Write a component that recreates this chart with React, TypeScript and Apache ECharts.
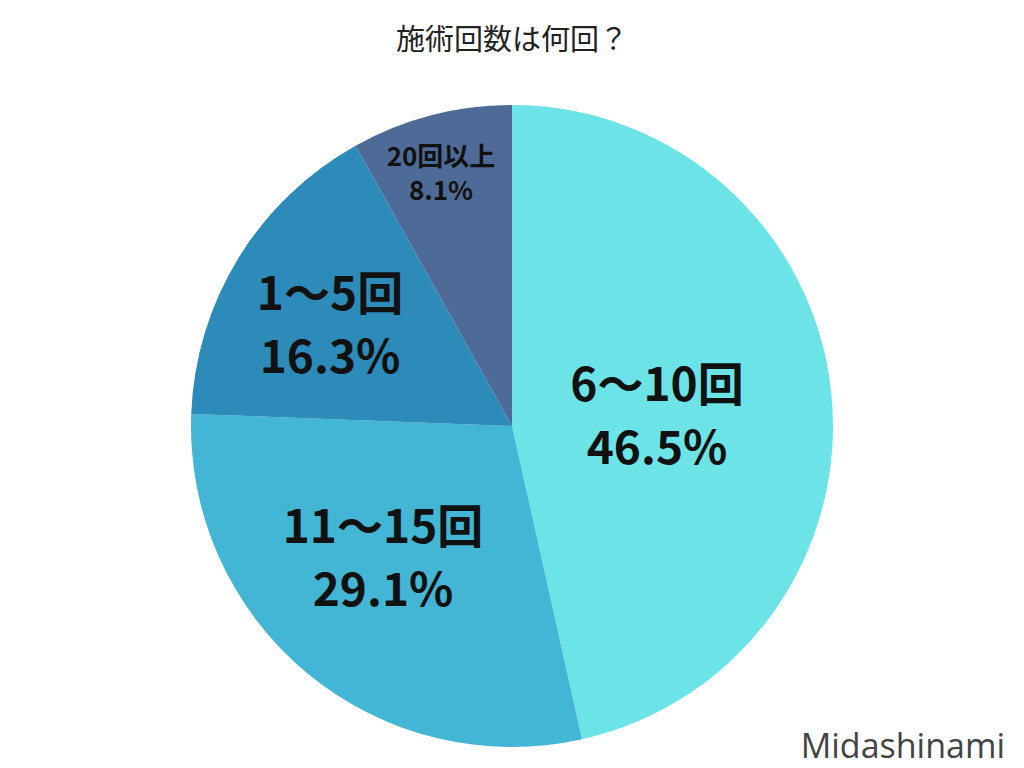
import React, { useEffect, useRef } from "react";
import * as echarts from "echarts";

const categories = ["6〜10回", "11〜15回", "1〜5回", "20回以上"];
const values = [46.5, 29.1, 16.3, 8.1];
const colors = ["#6ce3e6", "#42b6d4", "#2d8bba", "#4e6b97"];
const labelOffsets = [
  [145, -14],
  [-129, 128],
  [-182, -105],
  [-71, -255],
];
const labelSizes = [46, 46, 46, 26];
const labelLineHeights = [63, 63, 63, 34];

const CX = 512;
const CY = 426;
const R = 321;

export default function App() {
  const ref = useRef<HTMLDivElement>(null);
  useEffect(() => {
    const chart = echarts.init(ref.current!, null, { renderer: "svg" });
    chart.setOption({
      animation: false,
      backgroundColor: "#ffffff",
      title: {
        text: "施術回数は何回？",
        left: "center",
        top: 17,
        textStyle: {
          fontFamily: "Noto Sans CJK JP",
          fontSize: 29,
          fontWeight: "normal",
          color: "#222222",
        },
      },
      graphic: [
        {
          type: "text",
          x: 1005,
          y: 745,
          style: {
            text: "Midashinami",
            fontFamily: "Open Sans",
            fontSize: 34,
            fill: "#444444",
            align: "right",
            verticalAlign: "middle",
          },
        },
      ],
      series: [
        {
          type: "pie",
          center: [CX, CY],
          radius: [0, R],
          startAngle: 90,
          clockwise: true,
          data: categories.map((c, i) => ({
            name: c,
            value: values[i],
            itemStyle: { color: colors[i] },
            label: {
              fontSize: labelSizes[i],
              lineHeight: labelLineHeights[i],
            },
          })),
          label: {
            show: true,
            position: "inside",
            formatter: (p: any) => `${p.name}\n${p.value.toFixed(1)}%`,
            fontFamily: "Noto Sans CJK JP",
            fontWeight: "bold",
            color: "#111111",
          },
          labelLayout: (p: any) => {
            const i = p.dataIndex;
            return {
              x: CX + labelOffsets[i][0],
              y: CY + labelOffsets[i][1],
              align: "center",
              verticalAlign: "middle",
            };
          },
          labelLine: { show: false },
          emphasis: { disabled: true },
        },
      ],
    });
    return () => chart.dispose();
  }, []);
  return (
    <div
      ref={ref}
      style={{ position: "absolute", left: 0, top: 0, width: 1024, height: 768 }}
    />
  );
}
